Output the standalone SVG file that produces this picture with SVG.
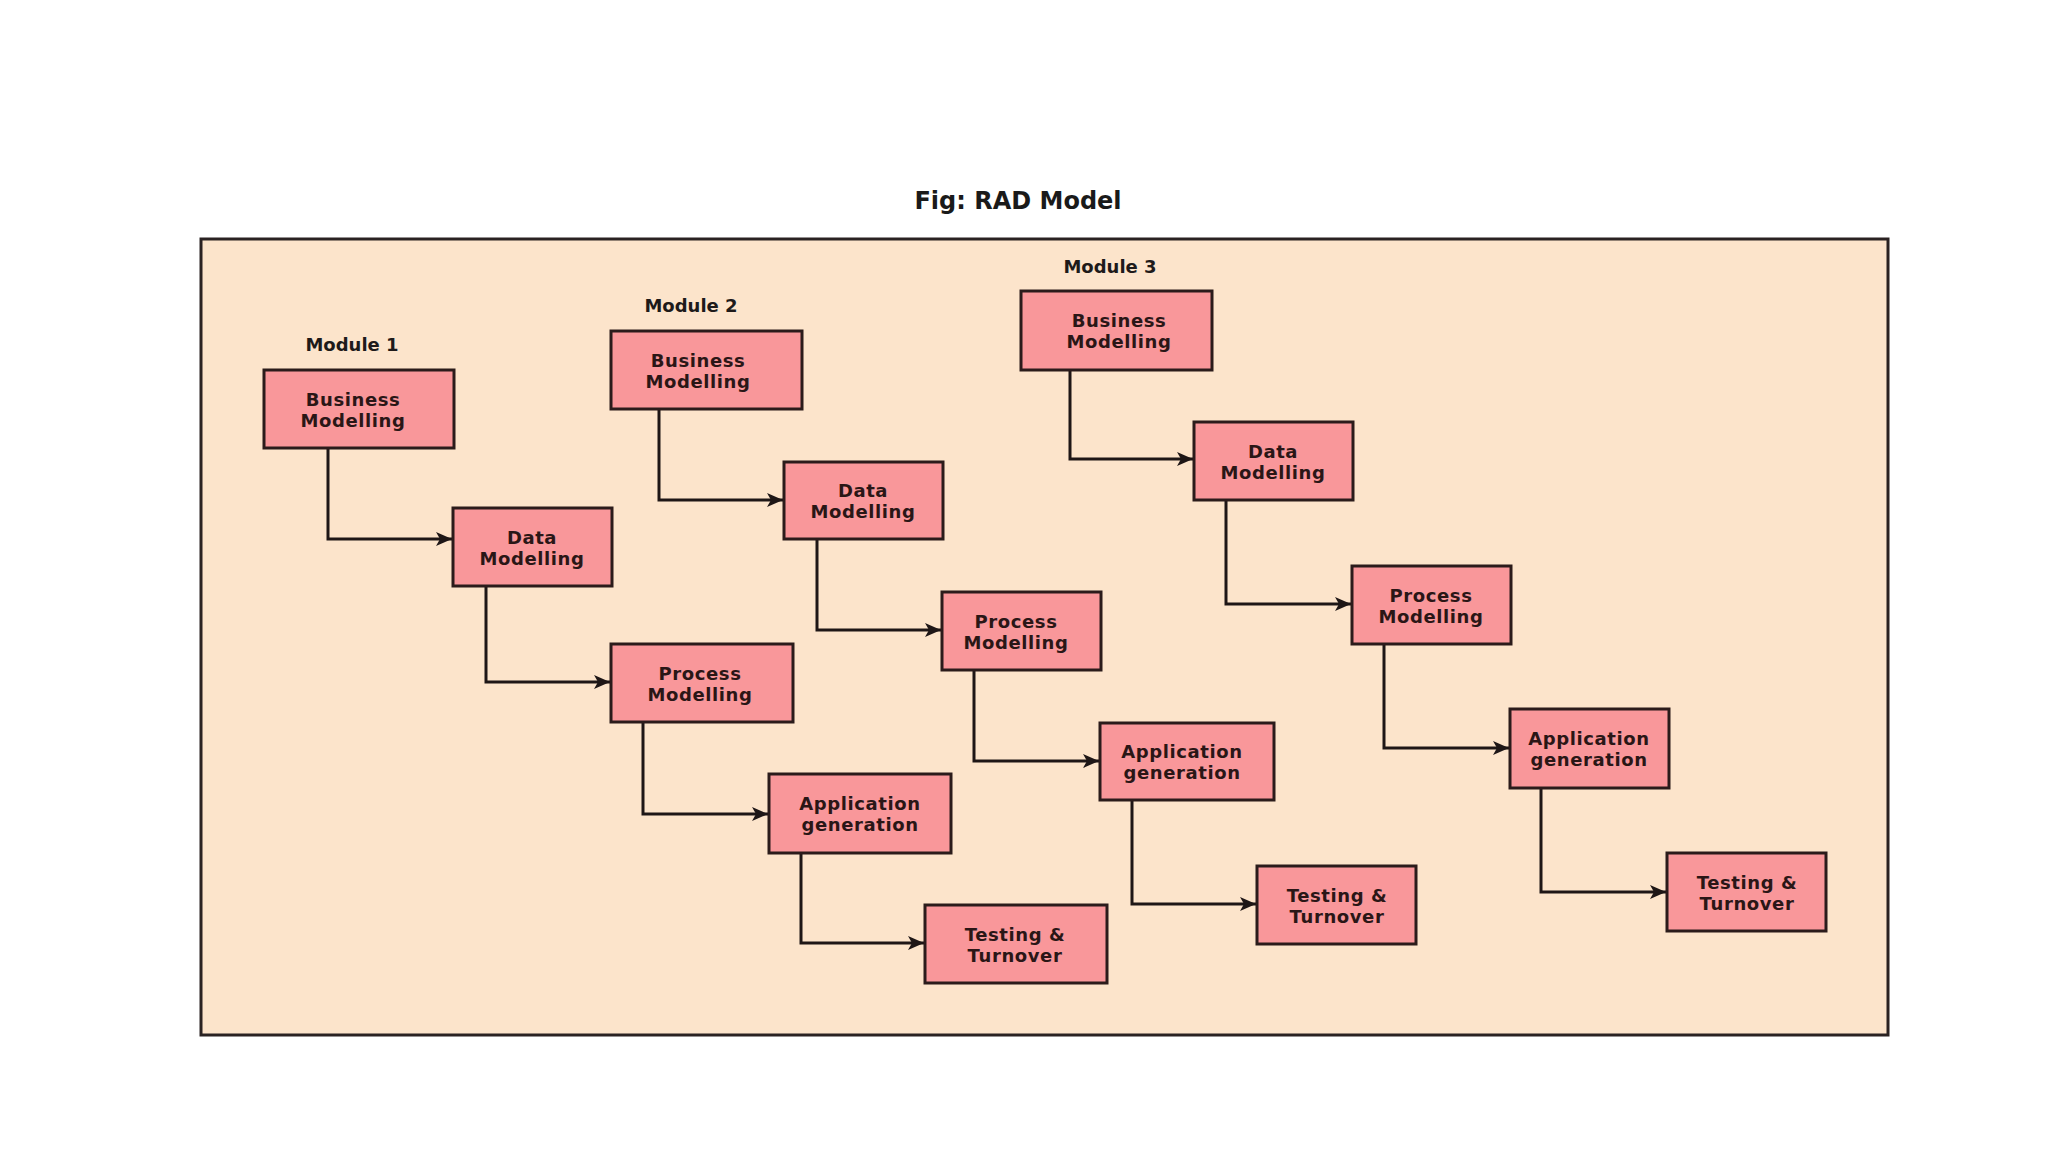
<svg xmlns="http://www.w3.org/2000/svg" width="2048" height="1152" viewBox="0 0 2048 1152">
<defs>
<style>
.box{fill:#F9979A;stroke:#2B1B1B;stroke-width:3}
.lbl{font-family:"DejaVu Sans","Liberation Sans",sans-serif;font-weight:bold;font-size:18px;fill:#2A1616;text-anchor:middle;letter-spacing:0.6px}
.mod{font-family:"DejaVu Sans","Liberation Sans",sans-serif;font-weight:bold;font-size:18px;fill:#1E1A1A;text-anchor:middle}
.title{font-family:"DejaVu Sans","Liberation Sans",sans-serif;font-weight:bold;font-size:24px;fill:#1A1A1A;text-anchor:middle}
.conn{fill:none;stroke:#1E1616;stroke-width:3;marker-end:url(#arr)}
</style>
<marker id="arr" markerUnits="userSpaceOnUse" markerWidth="18" markerHeight="14" refX="16" refY="7" orient="auto">
<path d="M0,0 L16,7 L0,14 L4,7 Z" fill="#1E1616"/>
</marker>
</defs>
<rect width="2048" height="1152" fill="#FFFFFF"/>
<text class="title" x="1018" y="209">Fig: RAD Model</text>
<rect x="201" y="239" width="1687" height="796" fill="#FCE4CB" stroke="#2A2222" stroke-width="3"/>
<g id="labels">
<text class="mod" x="352" y="351">Module 1</text>
<text class="mod" x="691" y="312">Module 2</text>
<text class="mod" x="1110" y="273">Module 3</text>
</g>
<g id="connectors">
<path class="conn" d="M328,448 V539 H452"/>
<path class="conn" d="M486,586 V682 H610"/>
<path class="conn" d="M643,722 V814 H768"/>
<path class="conn" d="M801,853 V943 H924"/>
<path class="conn" d="M659,409 V500 H783"/>
<path class="conn" d="M817,539 V630 H941"/>
<path class="conn" d="M974,670 V761 H1099"/>
<path class="conn" d="M1132,800 V904 H1256"/>
<path class="conn" d="M1070,370 V459 H1193"/>
<path class="conn" d="M1226,500 V604 H1351"/>
<path class="conn" d="M1384,644 V748 H1509"/>
<path class="conn" d="M1541,788 V892 H1666"/>
</g>
<g id="m1-business"><rect class="box" x="264" y="370" width="190" height="78"/><text class="lbl" x="353"><tspan x="353" y="406">Business</tspan><tspan x="353" y="427">Modelling</tspan></text></g>
<g id="m1-data"><rect class="box" x="453" y="508" width="159" height="78"/><text class="lbl"><tspan x="532" y="544">Data</tspan><tspan x="532" y="565">Modelling</tspan></text></g>
<g id="m1-process"><rect class="box" x="611" y="644" width="182" height="78"/><text class="lbl"><tspan x="700" y="680">Process</tspan><tspan x="700" y="701">Modelling</tspan></text></g>
<g id="m1-application"><rect class="box" x="769" y="774" width="182" height="79"/><text class="lbl"><tspan x="860" y="810">Application</tspan><tspan x="860" y="831">generation</tspan></text></g>
<g id="m1-testing"><rect class="box" x="925" y="905" width="182" height="78"/><text class="lbl"><tspan x="1015" y="941">Testing &amp;</tspan><tspan x="1015" y="962">Turnover</tspan></text></g>
<g id="m2-business"><rect class="box" x="611" y="331" width="191" height="78"/><text class="lbl"><tspan x="698" y="367">Business</tspan><tspan x="698" y="388">Modelling</tspan></text></g>
<g id="m2-data"><rect class="box" x="784" y="462" width="159" height="77"/><text class="lbl"><tspan x="863" y="497">Data</tspan><tspan x="863" y="518">Modelling</tspan></text></g>
<g id="m2-process"><rect class="box" x="942" y="592" width="159" height="78"/><text class="lbl"><tspan x="1016" y="628">Process</tspan><tspan x="1016" y="649">Modelling</tspan></text></g>
<g id="m2-application"><rect class="box" x="1100" y="723" width="174" height="77"/><text class="lbl"><tspan x="1182" y="758">Application</tspan><tspan x="1182" y="779">generation</tspan></text></g>
<g id="m2-testing"><rect class="box" x="1257" y="866" width="159" height="78"/><text class="lbl"><tspan x="1337" y="902">Testing &amp;</tspan><tspan x="1337" y="923">Turnover</tspan></text></g>
<g id="m3-business"><rect class="box" x="1021" y="291" width="191" height="79"/><text class="lbl"><tspan x="1119" y="327">Business</tspan><tspan x="1119" y="348">Modelling</tspan></text></g>
<g id="m3-data"><rect class="box" x="1194" y="422" width="159" height="78"/><text class="lbl"><tspan x="1273" y="458">Data</tspan><tspan x="1273" y="479">Modelling</tspan></text></g>
<g id="m3-process"><rect class="box" x="1352" y="566" width="159" height="78"/><text class="lbl"><tspan x="1431" y="602">Process</tspan><tspan x="1431" y="623">Modelling</tspan></text></g>
<g id="m3-application"><rect class="box" x="1510" y="709" width="159" height="79"/><text class="lbl"><tspan x="1589" y="745">Application</tspan><tspan x="1589" y="766">generation</tspan></text></g>
<g id="m3-testing"><rect class="box" x="1667" y="853" width="159" height="78"/><text class="lbl"><tspan x="1747" y="889">Testing &amp;</tspan><tspan x="1747" y="910">Turnover</tspan></text></g>
</svg>
